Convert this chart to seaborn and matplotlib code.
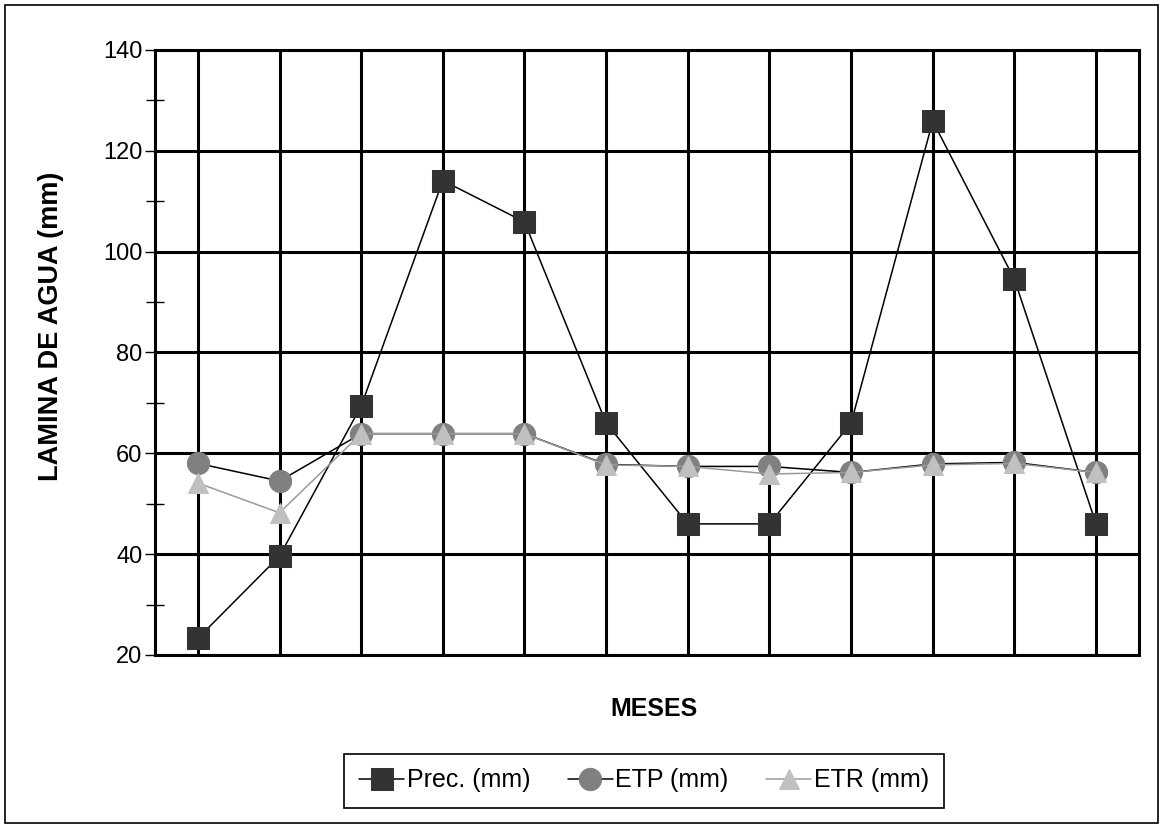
import matplotlib
matplotlib.use('Agg')
import matplotlib.pyplot as plt
import matplotlib.patches as patches
from matplotlib.ticker import MultipleLocator
import seaborn as sns

# monthly water balance values (mm)
meses = list(range(1, 13))
prec = [23.3, 39.6, 69.4, 114.1, 105.9, 66.0, 46.0, 46.0, 66.0, 125.9, 94.5, 46.0]
etp = [58.0, 54.5, 63.9, 63.9, 63.9, 57.8, 57.4, 57.4, 56.2, 57.9, 58.2, 56.2]
etr = [54.1, 48.2, 63.9, 63.9, 63.9, 57.7, 57.4, 55.9, 56.2, 57.7, 58.0, 56.2]

sns.set_style('white')
plt.rcParams['font.family'] = ['Liberation Sans', 'DejaVu Sans']
plt.rcParams['text.color'] = 'black'
plt.rcParams['ytick.color'] = 'black'
plt.rcParams['ytick.labelcolor'] = 'black'

fig = plt.figure(figsize=(11.61, 8.25), dpi=100)
ax = fig.add_axes([0.1335, 0.2061, 0.8475, 0.7333])

sns.lineplot(x=meses, y=prec, ax=ax, color='black', linewidth=1.1,
             marker='s', markersize=16.5, markerfacecolor='#333333',
             markeredgecolor='#333333', label='Prec. (mm)')
sns.lineplot(x=meses, y=etp, ax=ax, color='black', linewidth=1.1,
             marker='o', markersize=16, markerfacecolor='#808080',
             markeredgecolor='#808080', label='ETP (mm)')
sns.lineplot(x=meses, y=etr, ax=ax, color='#9a9a9a', linewidth=1.1,
             marker='^', markersize=15, markerfacecolor='#c0c0c0',
             markeredgecolor='#c0c0c0', label='ETR (mm)')

ax.set_xlim(0.475, 12.525)
ax.set_ylim(20, 140)
ax.set_xticks(meses)
ax.set_xticklabels([])
ax.yaxis.set_major_locator(MultipleLocator(20))
ax.yaxis.set_minor_locator(MultipleLocator(10))
ax.tick_params(axis='x', length=0)
ax.tick_params(axis='y', which='major', left=True, direction='out', length=7,
               width=1, color='black', labelsize=17, labelcolor='black', pad=2)
ax.tick_params(axis='y', which='minor', left=True, direction='inout', length=13,
               width=1, color='black')
ax.grid(True, which='major', color='black', linewidth=2.2)
ax.set_axisbelow(True)
for side in ['left', 'right', 'bottom', 'top']:
    ax.spines[side].set_visible(True)
    ax.spines[side].set_color('black')
    ax.spines[side].set_linewidth(2.2)
ax.set_xlabel('')
ax.set_ylabel('')

fig.text(51 / 1161, 1 - 326 / 825, 'LAMINA DE AGUA (mm)', rotation=90,
         ha='center', va='center', fontsize=19.5, fontweight='bold',
         color='black')
fig.text(654 / 1161, 1 - 709 / 825, 'MESES', ha='center', va='center',
         fontsize=18, fontweight='bold', color='black')

leg = ax.legend(loc='center', bbox_to_anchor=(644 / 1161, 1 - 780.5 / 825),
                bbox_transform=fig.transFigure, ncol=3, fontsize=18,
                frameon=True, fancybox=False, framealpha=1, edgecolor='black',
                handlelength=1.8, handletextpad=0.1, columnspacing=1.5,
                borderpad=0.6, labelcolor='black')
leg.get_frame().set_linewidth(1.2)

fig.patches.append(patches.Rectangle((5 / 1161, 2 / 825), 1153 / 1161, 818 / 825,
                                     transform=fig.transFigure, fill=False,
                                     edgecolor='black', linewidth=1.2))

fig.savefig('out.png', dpi=100)
